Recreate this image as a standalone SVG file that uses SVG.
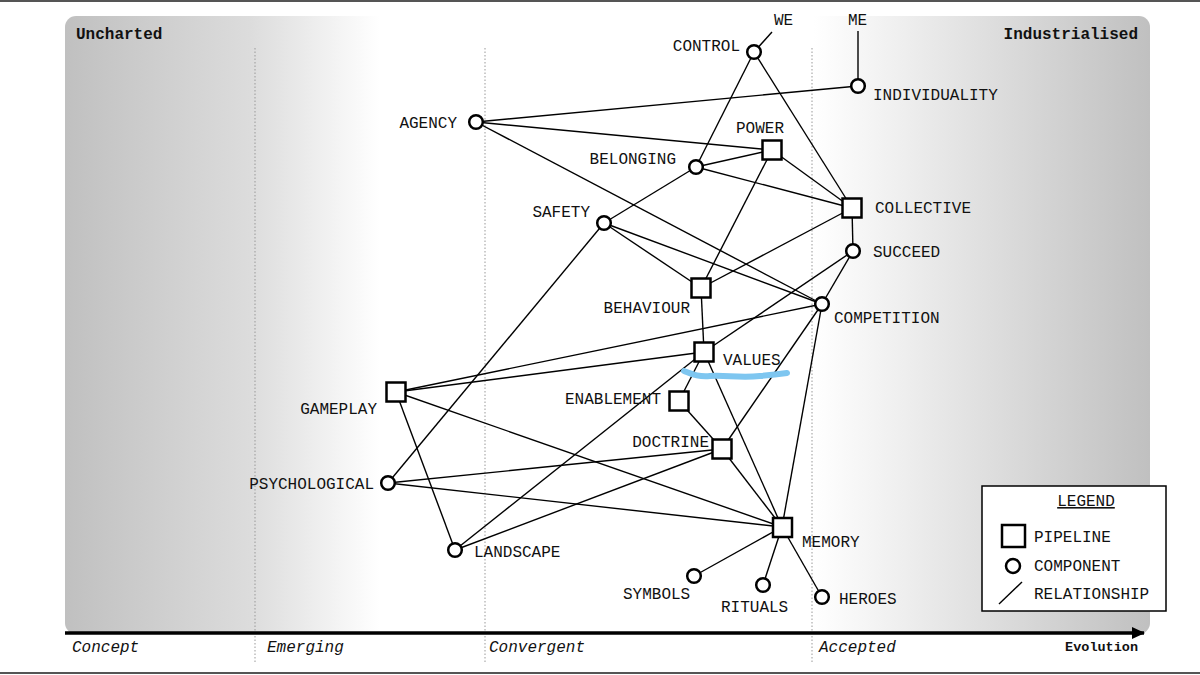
<svg xmlns="http://www.w3.org/2000/svg" width="1200" height="675" viewBox="0 0 1200 675">
<defs>
<linearGradient id="bg" gradientUnits="userSpaceOnUse" x1="65" y1="0" x2="1150" y2="0">
<stop offset="0" stop-color="#c0c0c0"/>
<stop offset="0.17" stop-color="#dcdcdc"/>
<stop offset="0.29" stop-color="#ffffff"/>
<stop offset="0.69" stop-color="#ffffff"/>
<stop offset="1" stop-color="#c0c0c0"/>
</linearGradient>
<marker id="arr" markerWidth="14" markerHeight="12" refX="12" refY="6" orient="auto" markerUnits="userSpaceOnUse">
<path d="M0,0 L13,6 L0,12 Z" fill="#000"/>
</marker>
</defs>
<style>
.lbl{font-family:"Liberation Mono","DejaVu Sans Mono",monospace;font-size:16px;fill:#111}
.hdr{font-family:"Liberation Mono","DejaVu Sans Mono",monospace;font-size:16px;font-weight:bold;fill:#111}
.stage{font-family:"Liberation Mono","DejaVu Sans Mono",monospace;font-size:16px;font-style:italic;fill:#111}
.evo{font-family:"Liberation Mono","DejaVu Sans Mono",monospace;font-size:13.5px;font-weight:bold;fill:#111}
.dot{stroke:#999;stroke-width:1;stroke-dasharray:1.5,2;fill:none}
.edge{stroke:#000;stroke-width:1.4;fill:none}
.comp{fill:#fff;stroke:#000;stroke-width:2.5}
.pipe{fill:#fff;stroke:#000;stroke-width:2.5}
</style>
<rect x="0" y="0" width="1200" height="675" fill="#fff"/>
<line x1="0" y1="1" x2="1200" y2="1" stroke="#555" stroke-width="2"/>
<line x1="0" y1="673" x2="1200" y2="673" stroke="#555" stroke-width="2"/>
<rect x="65" y="16" width="1085" height="618" rx="11" fill="url(#bg)"/>
<g id="stages">
<line class="dot" x1="255" y1="48" x2="255" y2="662"/>
<line class="dot" x1="485" y1="48" x2="485" y2="662"/>
<line class="dot" x1="812" y1="48" x2="812" y2="662"/>
</g>
<g id="axis">
<line x1="65" y1="633" x2="1144" y2="633" stroke="#000" stroke-width="3.5" marker-end="url(#arr)"/>
<text class="stage" x="72" y="652">Concept</text>
<text class="stage" x="267" y="652">Emerging</text>
<text class="stage" x="489" y="652">Convergent</text>
<text class="stage" x="819" y="652">Accepted</text>
<text class="evo" x="1138" y="651" text-anchor="end">Evolution</text>
<text class="hdr" x="76" y="39">Uncharted</text>
<text class="hdr" x="1138" y="39" text-anchor="end">Industrialised</text>
</g>
<g id="connectors">
<line class="edge" x1="754" y1="52" x2="772" y2="32"/>
<line class="edge" x1="858" y1="86" x2="858" y2="31"/>
<line class="edge" x1="754" y1="52" x2="696" y2="167"/>
<line class="edge" x1="754" y1="52" x2="852" y2="208"/>
<line class="edge" x1="476" y1="122" x2="858" y2="86"/>
<line class="edge" x1="476" y1="122" x2="772" y2="150"/>
<line class="edge" x1="476" y1="122" x2="822" y2="304"/>
<line class="edge" x1="696" y1="167" x2="772" y2="150"/>
<line class="edge" x1="696" y1="167" x2="852" y2="208"/>
<line class="edge" x1="696" y1="167" x2="604" y2="223"/>
<line class="edge" x1="772" y1="150" x2="852" y2="208"/>
<line class="edge" x1="772" y1="150" x2="701" y2="288"/>
<line class="edge" x1="604" y1="223" x2="701" y2="288"/>
<line class="edge" x1="604" y1="223" x2="822" y2="304"/>
<line class="edge" x1="604" y1="223" x2="388" y2="483"/>
<line class="edge" x1="852" y1="208" x2="853" y2="251"/>
<line class="edge" x1="852" y1="208" x2="701" y2="288"/>
<line class="edge" x1="853" y1="251" x2="822" y2="304"/>
<line class="edge" x1="853" y1="251" x2="704" y2="352"/>
<line class="edge" x1="701" y1="288" x2="704" y2="352"/>
<line class="edge" x1="396" y1="392" x2="822" y2="304"/>
<line class="edge" x1="396" y1="392" x2="704" y2="352"/>
<line class="edge" x1="822" y1="304" x2="722" y2="449"/>
<line class="edge" x1="822" y1="304" x2="782" y2="527"/>
<line class="edge" x1="704" y1="352" x2="679" y2="401"/>
<line class="edge" x1="704" y1="352" x2="455" y2="550"/>
<line class="edge" x1="704" y1="352" x2="782" y2="527"/>
<line class="edge" x1="679" y1="401" x2="722" y2="449"/>
<line class="edge" x1="722" y1="449" x2="782" y2="527"/>
<line class="edge" x1="722" y1="449" x2="388" y2="483"/>
<line class="edge" x1="722" y1="449" x2="455" y2="550"/>
<line class="edge" x1="396" y1="392" x2="782" y2="527"/>
<line class="edge" x1="396" y1="392" x2="455" y2="550"/>
<line class="edge" x1="388" y1="483" x2="782" y2="527"/>
<line class="edge" x1="782" y1="527" x2="694" y2="576"/>
<line class="edge" x1="782" y1="527" x2="763" y2="585"/>
<line class="edge" x1="782" y1="527" x2="822" y2="597"/>
</g>
<g id="n-control"><circle class="comp" cx="754" cy="52" r="6.8"/><text class="lbl" x="740" y="51" text-anchor="end">CONTROL</text></g>
<g id="n-we"><text class="lbl" x="774" y="25">WE</text></g>
<g id="n-me"><text class="lbl" x="848" y="25">ME</text></g>
<g id="n-individuality"><circle class="comp" cx="858" cy="86" r="6.8"/><text class="lbl" x="873" y="100">INDIVIDUALITY</text></g>
<g id="n-agency"><circle class="comp" cx="476" cy="122" r="6.8"/><text class="lbl" x="457" y="128" text-anchor="end">AGENCY</text></g>
<g id="n-power"><rect class="pipe" x="762.5" y="140.5" width="19" height="19"/><text class="lbl" x="736" y="133">POWER</text></g>
<g id="n-belonging"><circle class="comp" cx="696" cy="167" r="6.8"/><text class="lbl" x="676" y="164" text-anchor="end">BELONGING</text></g>
<g id="n-collective"><rect class="pipe" x="842.5" y="198.5" width="19" height="19"/><text class="lbl" x="875" y="213">COLLECTIVE</text></g>
<g id="n-safety"><circle class="comp" cx="604" cy="223" r="6.8"/><text class="lbl" x="590" y="217" text-anchor="end">SAFETY</text></g>
<g id="n-succeed"><circle class="comp" cx="853" cy="251" r="6.8"/><text class="lbl" x="873" y="257">SUCCEED</text></g>
<g id="n-behaviour"><rect class="pipe" x="691.5" y="278.5" width="19" height="19"/><text class="lbl" x="690" y="313" text-anchor="end">BEHAVIOUR</text></g>
<g id="n-competition"><circle class="comp" cx="822" cy="304" r="6.8"/><text class="lbl" x="834" y="323">COMPETITION</text></g>
<g id="n-values"><rect class="pipe" x="694.5" y="342.5" width="19" height="19"/><text class="lbl" x="723" y="365">VALUES</text></g>
<g id="n-gameplay"><rect class="pipe" x="386.5" y="382.5" width="19" height="19"/><text class="lbl" x="377" y="414" text-anchor="end">GAMEPLAY</text></g>
<g id="n-enablement"><rect class="pipe" x="669.5" y="391.5" width="19" height="19"/><text class="lbl" x="661" y="404" text-anchor="end">ENABLEMENT</text></g>
<g id="n-doctrine"><rect class="pipe" x="712.5" y="439.5" width="19" height="19"/><text class="lbl" x="709" y="447" text-anchor="end">DOCTRINE</text></g>
<g id="n-psychological"><circle class="comp" cx="388" cy="483" r="6.8"/><text class="lbl" x="374" y="489" text-anchor="end">PSYCHOLOGICAL</text></g>
<g id="n-memory"><rect class="pipe" x="773" y="518" width="19" height="19"/><text class="lbl" x="802" y="547">MEMORY</text></g>
<g id="n-landscape"><circle class="comp" cx="455" cy="550" r="6.8"/><text class="lbl" x="474" y="557">LANDSCAPE</text></g>
<g id="n-symbols"><circle class="comp" cx="694" cy="576" r="6.8"/><text class="lbl" x="623" y="599">SYMBOLS</text></g>
<g id="n-rituals"><circle class="comp" cx="763" cy="585" r="6.8"/><text class="lbl" x="721" y="612">RITUALS</text></g>
<g id="n-heroes"><circle class="comp" cx="822" cy="597" r="6.8"/><text class="lbl" x="839" y="604">HEROES</text></g>
<path id="highlight" d="M684,371 C692,374 698,377 710,376 C725,375 740,378 760,376 C772,375 780,374 787,373" fill="none" stroke="#7ec6f0" stroke-width="6" stroke-linecap="round"/>
<g id="legend">
<rect x="982" y="486" width="184" height="125" fill="#fff" stroke="#000" stroke-width="1.5"/>
<text class="lbl" x="1086" y="506" text-anchor="middle" text-decoration="underline">LEGEND</text>
<rect x="1002" y="525" width="23" height="22" fill="#fff" stroke="#000" stroke-width="2.5"/>
<text class="lbl" x="1034" y="542">PIPELINE</text>
<circle cx="1013" cy="566" r="7" fill="#fff" stroke="#000" stroke-width="2.5"/>
<text class="lbl" x="1034" y="571">COMPONENT</text>
<line x1="999" y1="604" x2="1022" y2="582" stroke="#000" stroke-width="1.4"/>
<text class="lbl" x="1034" y="599">RELATIONSHIP</text>
</g>
</svg>
